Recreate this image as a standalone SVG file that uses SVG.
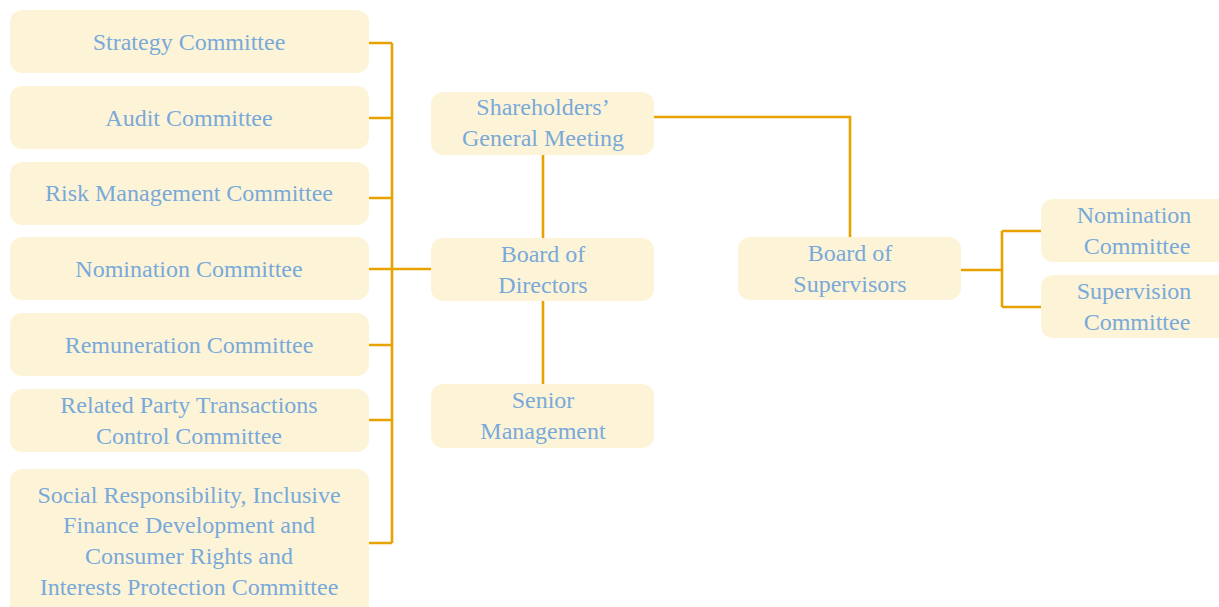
<svg xmlns="http://www.w3.org/2000/svg" width="1219" height="607" viewBox="0 0 1219 607">
<style>
.box{fill:#fdf4d8;}
.t{font-family:"Liberation Serif","DejaVu Serif",serif;font-size:24px;fill:#79a9d9;text-anchor:middle;}
.c{fill:none;stroke:#e8a200;stroke-width:2.6;}
</style>
<rect width="1219" height="607" fill="#ffffff"/>
<g id="connectors">
<path class="c" d="M369 43H392M369 118H392M369 198H392M369 269H431M369 345H392M369 420H392M369 543H392M392 43V543"/>
<path class="c" d="M543 155V238M543 301V384"/>
<path class="c" d="M654 117H850V237"/>
<path class="c" d="M961 270H1002M1002 231V307M1002 231H1041M1002 307H1041"/>
</g>
<g id="strategy"><rect class="box" x="10" y="10" width="359" height="63" rx="12"/><text class="t" x="189" y="50">Strategy Committee</text></g>
<g id="audit"><rect class="box" x="10" y="86" width="359" height="63" rx="12"/><text class="t" x="189" y="126">Audit Committee</text></g>
<g id="risk"><rect class="box" x="10" y="162" width="359" height="63" rx="12"/><text class="t" x="189" y="201">Risk Management Committee</text></g>
<g id="nomination-l"><rect class="box" x="10" y="237" width="359" height="63" rx="12"/><text class="t" x="189" y="277">Nomination Committee</text></g>
<g id="remuneration"><rect class="box" x="10" y="313" width="359" height="63" rx="12"/><text class="t" x="189" y="353">Remuneration Committee</text></g>
<g id="related"><rect class="box" x="10" y="389" width="359" height="63" rx="12"/><text class="t" x="189" y="413">Related Party Transactions</text><text class="t" x="189" y="444">Control Committee</text></g>
<g id="social"><rect class="box" x="10" y="469" width="359" height="150" rx="12"/><text class="t" x="189" y="503">Social Responsibility, Inclusive</text><text class="t" x="189" y="533">Finance Development and</text><text class="t" x="189" y="564">Consumer Rights and</text><text class="t" x="189" y="595">Interests Protection Committee</text></g>
<g id="shareholders"><rect class="box" x="431" y="92" width="223" height="63" rx="12"/><text class="t" x="543" y="115">Shareholders’</text><text class="t" x="543" y="146">General Meeting</text></g>
<g id="board-directors"><rect class="box" x="431" y="238" width="223" height="63" rx="12"/><text class="t" x="543" y="262">Board of</text><text class="t" x="543" y="293">Directors</text></g>
<g id="senior"><rect class="box" x="431" y="384" width="223" height="64" rx="12"/><text class="t" x="543" y="408">Senior</text><text class="t" x="543" y="439">Management</text></g>
<g id="board-supervisors"><rect class="box" x="738" y="237" width="223" height="63" rx="12"/><text class="t" x="850" y="261">Board of</text><text class="t" x="850" y="292">Supervisors</text></g>
<g id="nomination-r"><rect class="box" x="1041" y="199" width="190" height="63" rx="12"/><text class="t" x="1134" y="223">Nomination</text><text class="t" x="1137" y="254">Committee</text></g>
<g id="supervision"><rect class="box" x="1041" y="275" width="190" height="63" rx="12"/><text class="t" x="1134" y="299">Supervision</text><text class="t" x="1137" y="330">Committee</text></g>
</svg>
